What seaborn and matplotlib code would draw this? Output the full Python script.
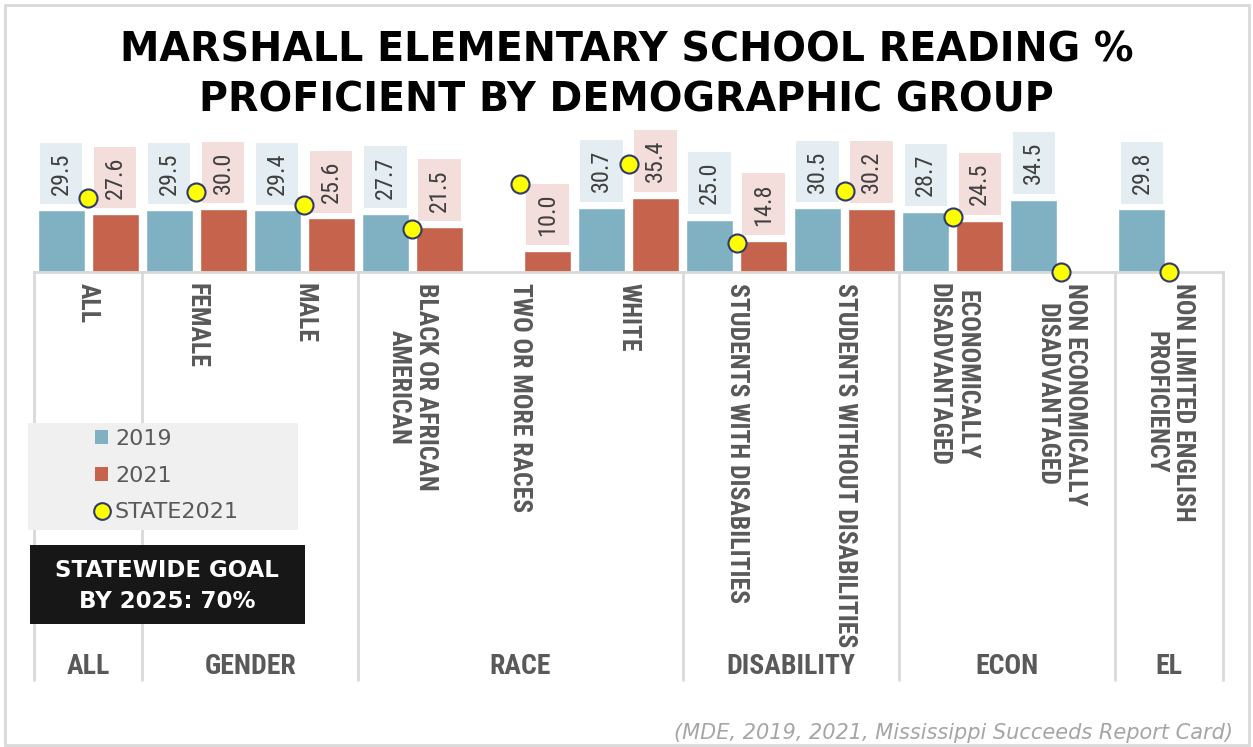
import numpy as np
import pandas as pd
import seaborn as sns
import matplotlib
matplotlib.use("Agg")
import matplotlib.pyplot as plt
import matplotlib.font_manager as fm
from matplotlib.patches import Rectangle, Patch
from matplotlib.lines import Line2D
from matplotlib.transforms import blended_transform_factory

# ---------------- data ----------------
categories = ["ALL", "FEMALE", "MALE", "BLACK OR AFRICAN\nAMERICAN", "TWO OR MORE RACES",
              "WHITE", "STUDENTS WITH DISABILITIES", "STUDENTS WITHOUT DISABILITIES",
              "ECONOMICALLY\nDISADVANTAGED", "NON ECONOMICALLY\nDISADVANTAGED",
              "NON LIMITED ENGLISH\nPROFICIENCY"]
values_2019 = [29.5, 29.5, 29.4, 27.7, np.nan, 30.7, 25.0, 30.5, 28.7, 34.5, 29.8]
values_2021 = [27.6, 30.0, 25.6, 21.5, 10.0, 35.4, 14.8, 30.2, 24.5, np.nan, np.nan]
state_2021 = [35.3, 38.1, 32.0, 20.3, 41.8, 51.3, 14.0, 38.6, 26.3, 0.0, 0.0]
groups = ["ALL", "GENDER", "RACE", "DISABILITY", "ECON", "EL"]
group_sizes = [1, 2, 3, 2, 2, 1]
series_names = ["2019", "2021"]
legend_labels = ["2019", "2021", "STATE2021"]
title = "MARSHALL ELEMENTARY SCHOOL READING %\nPROFICIENT BY DEMOGRAPHIC GROUP"
goal_text = "STATEWIDE GOAL\nBY 2025: 70%"
source_text = "(MDE, 2019, 2021, Mississippi Succeeds Report Card)"

# ---------------- style ----------------
sns.set_theme(style="white")
plt.rcParams["font.family"] = ["DejaVu Sans"]

avail = {f.name for f in fm.fontManager.ttflist}
def pick(cands):
    for c in cands:
        if c in avail:
            return c
    return "DejaVu Sans"
COND = pick(["Roboto Condensed", "Liberation Sans Narrow", "Open Sans Condensed", "DejaVu Sans"])
narrow = COND != "DejaVu Sans"

BLUE = "#7fb1c2"
RED = "#c5634c"
BLUE_BOX = "#e4eef2"
RED_BOX = "#f3dedb"
YELLOW = "#ffff00"
NAVY = "#2f3a6b"
GRAY_TXT = "#595959"
LINE = "#d9d9d9"

W, H = 1253, 747
fig = plt.figure(figsize=(W / 100, H / 100), dpi=100)
fig.patch.set_facecolor("white")

x0, x1 = 34, 1223
y_base, y_top = 272, 130
ax = fig.add_axes([x0 / W, 1 - y_base / H, (x1 - x0) / W, (y_base - y_top) / H])
ax.set_facecolor("none")

df = pd.DataFrame({
    "cat": categories * 2,
    "year": [series_names[0]] * len(categories) + [series_names[1]] * len(categories),
    "value": list(values_2019) + list(values_2021),
})

sns.barplot(data=df, x="cat", y="value", hue="year", order=categories,
            hue_order=series_names, palette=[BLUE, RED], width=1.0, gap=0.13,
            errorbar=None, saturation=1, legend=False, ax=ax, zorder=2)

state_df = pd.DataFrame({"cat": categories, "state": state_2021})
sns.pointplot(data=state_df, x="cat", y="state", order=categories, color=YELLOW,
              linestyle="none", markers="o", errorbar=None, ax=ax)
for ln in ax.lines:
    ln.set_markerfacecolor(YELLOW)
    ln.set_markeredgecolor(NAVY)
    ln.set_markeredgewidth(1.5)
    ln.set_markersize(13)
    ln.set_zorder(6)
    ln.set_clip_on(False)

ax.set_xlim(-0.5, len(categories) - 0.5)
ax.set_ylim(0, (y_base - y_top) / 2.1)

# value labels
box_colors = [BLUE_BOX, RED_BOX]
lab_size = 17.5 if narrow else 14.5
for cont, bc in zip(ax.containers, box_colors):
    for bar in cont:
        h = bar.get_height()
        if not np.isfinite(h) or h <= 0:
            continue
        xc = bar.get_x() + bar.get_width() / 2
        ax.annotate(f"{h:.1f}", xy=(xc, h), xytext=(0, 11), textcoords="offset points",
                    rotation=90, ha="center", va="bottom", fontsize=lab_size,
                    color="#404040", family=COND, zorder=4, annotation_clip=False,
                    bbox=dict(boxstyle="square,pad=0.4", facecolor=bc, edgecolor="none"))

# axes styling
for s in ["top", "right", "left"]:
    ax.spines[s].set_visible(False)
ax.spines["bottom"].set_color(LINE)
ax.spines["bottom"].set_linewidth(2)
ax.set_yticks([])
ax.set_xlabel("")
ax.set_ylabel("")
ax.set_xticks(range(len(categories)))
tick_size = 18.5 if narrow else 14.5
ax.set_xticklabels(categories, rotation=270, ha="center", va="top",
                   multialignment="center", fontsize=tick_size, fontweight="bold",
                   color=GRAY_TXT, family=COND)
ax.tick_params(axis="x", length=0, pad=8)

# group separators and group labels
trans = blended_transform_factory(ax.transData, fig.transFigure)
bounds = np.concatenate([[0], np.cumsum(group_sizes)]) - 0.5
for b in bounds:
    fig.add_artist(Line2D([b, b], [1 - y_base / H, 1 - 680 / H], transform=trans,
                          color=LINE, lw=2, zorder=-2))
grp_size = 20 if narrow else 15.5
for g, a, b in zip(groups, bounds[:-1], bounds[1:]):
    fig.text((a + b) / 2, 1 - 666 / H, g, transform=trans, ha="center", va="center",
             fontsize=grp_size, fontweight="bold", color=GRAY_TXT, family=COND)

# title
fig.text(0.5, 1 - 30 / H, title, ha="center", va="top", fontsize=28.5,
         fontweight="bold", color="black", linespacing=1.35)

# legend
fig.add_artist(Rectangle((28 / W, 1 - 530 / H), 270 / W, 107 / H, transform=fig.transFigure,
                         facecolor="#f0f0f0", edgecolor="none", zorder=-1))
handles = [Patch(facecolor=BLUE, edgecolor="none"), Patch(facecolor=RED, edgecolor="none"),
           Line2D([], [], marker="o", linestyle="none", markerfacecolor=YELLOW,
                  markeredgecolor=NAVY, markeredgewidth=1.5, markersize=12)]
leg = fig.legend(handles, legend_labels, loc="upper left",
                 bbox_to_anchor=(95 / W, 1 - 429 / H), bbox_transform=fig.transFigure,
                 frameon=False, fontsize=16, labelcolor=GRAY_TXT, handlelength=0.6,
                 handleheight=0.6, handletextpad=0.3, labelspacing=0.75, borderpad=0,
                 borderaxespad=0)
leg.set_zorder(7)

# goal box
fig.add_artist(Rectangle((30 / W, 1 - 624 / H), 275 / W, 79 / H, transform=fig.transFigure,
                         facecolor="#171717", edgecolor="none", zorder=-1))
fig.text(167 / W, 1 - 586 / H, goal_text, ha="center", va="center", fontsize=16.5,
         fontweight="bold", color="white", linespacing=1.4)

# source
fig.text(1233 / W, 1 - 733 / H, source_text, ha="right", va="center", fontsize=15,
         style="italic", color="#a6a6a6")

# outer border
fig.add_artist(Rectangle((5 / W, 1 - 745 / H), 1244 / W, 740 / H, transform=fig.transFigure,
                         fill=False, edgecolor=LINE, lw=2, zorder=-3))

fig.savefig("out.png", dpi=100, facecolor="white")
